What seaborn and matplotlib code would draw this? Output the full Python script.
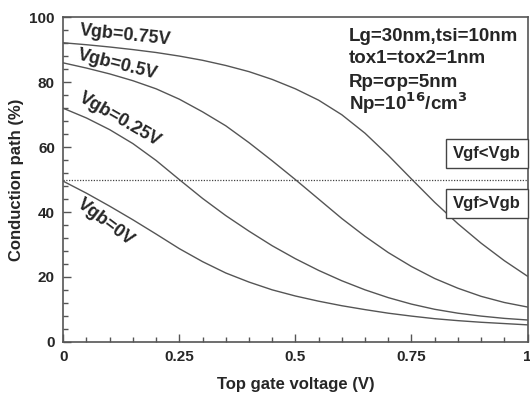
import numpy as np
import pandas as pd
import matplotlib
matplotlib.use("Agg")
import matplotlib.pyplot as plt
import seaborn as sns
from matplotlib.ticker import MultipleLocator

# top gate voltage (V)
vgf = [0.0, 0.05, 0.1, 0.15, 0.2, 0.25, 0.3, 0.35, 0.4, 0.45, 0.5,
       0.55, 0.6, 0.65, 0.7, 0.75, 0.8, 0.85, 0.9, 0.95, 1.0]

# conduction path (%) for each back gate voltage
path_vgb_075 = [92.2, 91.6, 90.9, 90.1, 89.2, 88.1, 86.8, 85.2, 83.3, 80.9, 78.0,
                74.5, 70.0, 64.3, 57.5, 50.2, 43.0, 36.4, 30.4, 25.0, 20.2]
path_vgb_050 = [86.0, 84.4, 82.6, 80.5, 78.0, 74.8, 70.9, 66.6, 61.4, 55.8, 50.0,
                44.0, 38.0, 32.5, 27.5, 23.2, 19.5, 16.5, 14.0, 12.1, 10.7]
path_vgb_025 = [72.0, 69.0, 65.4, 61.1, 55.9, 50.0, 44.2, 38.9, 34.1, 29.6, 25.6,
                22.0, 18.8, 16.0, 13.6, 11.6, 10.0, 8.8, 7.9, 7.2, 6.7]
path_vgb_000 = [49.5, 45.8, 41.8, 37.6, 33.2, 28.7, 24.7, 21.2, 18.4, 16.0, 14.1,
                12.5, 11.1, 9.9, 8.8, 7.9, 7.1, 6.5, 6.0, 5.6, 5.2]

series = {
    "Vgb=0.75V": path_vgb_075,
    "Vgb=0.5V": path_vgb_050,
    "Vgb=0.25V": path_vgb_025,
    "Vgb=0V": path_vgb_000,
}

rows = []
for name, vals in series.items():
    for x, y in zip(vgf, vals):
        rows.append({"Vgf": x, "path": y, "Vgb": name})
df = pd.DataFrame(rows)

sns.set_style("ticks")
plt.rcParams["font.family"] = ["Liberation Sans", "DejaVu Sans"]
plt.rcParams["font.weight"] = "bold"
plt.rcParams["mathtext.default"] = "bf"

fig = plt.figure(figsize=(5.3, 3.94), dpi=100)
ax = fig.add_axes([0.1194, 0.1327, 0.8759, 0.8229])

line_col = "#555555"
sns.lineplot(data=df, x="Vgf", y="path", hue="Vgb",
             palette=[line_col] * 4, linewidth=1.0, legend=False, ax=ax)

ax.axhline(50, color="#444444", linestyle=(0, (1, 1.2)), linewidth=0.9)

ax.set_xlim(0, 1)
ax.set_ylim(0, 100)
ax.xaxis.set_major_locator(MultipleLocator(0.25))
ax.xaxis.set_minor_locator(MultipleLocator(0.05))
ax.yaxis.set_major_locator(MultipleLocator(20))
ax.yaxis.set_minor_locator(MultipleLocator(4))
ax.set_xticks([0, 0.25, 0.5, 0.75, 1])
ax.set_xticklabels(["0", "0.25", "0.5", "0.75", "1"])
ax.tick_params(which="major", direction="in", length=6, width=1,
               color="#555555", labelsize=11, pad=6)
ax.tick_params(which="minor", direction="in", length=3.5, width=1,
               color="#555555")
for lab in ax.get_xticklabels() + ax.get_yticklabels():
    lab.set_fontweight("bold")

for sp in ax.spines.values():
    sp.set_color("#555555")
    sp.set_linewidth(1.2)

ax.set_xlabel("Top gate voltage (V)", fontsize=12, fontweight="bold", labelpad=9)
ax.set_ylabel("Conduction path (%)", fontsize=12, fontweight="bold", labelpad=4)

# curve labels
labels = [("Vgb=0.75V", 0.133, 94.6, -6),
          ("Vgb=0.5V", 0.118, 85.4, -14),
          ("Vgb=0.25V", 0.122, 68.4, -30),
          ("Vgb=0V", 0.092, 36.9, -37)]
for txt, x, y, rot in labels:
    ax.text(x, y, txt, rotation=rot, ha="center", va="center",
            fontsize=13, fontweight="bold")

# parameter block
params = ["Lg=30nm,tsi=10nm", "tox1=tox2=1nm", "Rp=\u03c3p=5nm",
          r"Np=10$^{16}$/cm$^{3}$"]
param_y = [92.6, 85.9, 78.5, 71.5]
for txt, y in zip(params, param_y):
    ax.text(0.615, y, txt, ha="left", va="baseline", fontsize=13.5,
            fontweight="bold")

box = dict(boxstyle="square,pad=0.42", fc="white", ec="#444444", lw=1)
ax.text(0.912, 58.2, "Vgf<Vgb", ha="center", va="center", fontsize=12,
        fontweight="bold", bbox=box)
ax.text(0.912, 42.5, "Vgf>Vgb", ha="center", va="center", fontsize=12,
        fontweight="bold", bbox=box)

fig.savefig("out.png", dpi=100)
